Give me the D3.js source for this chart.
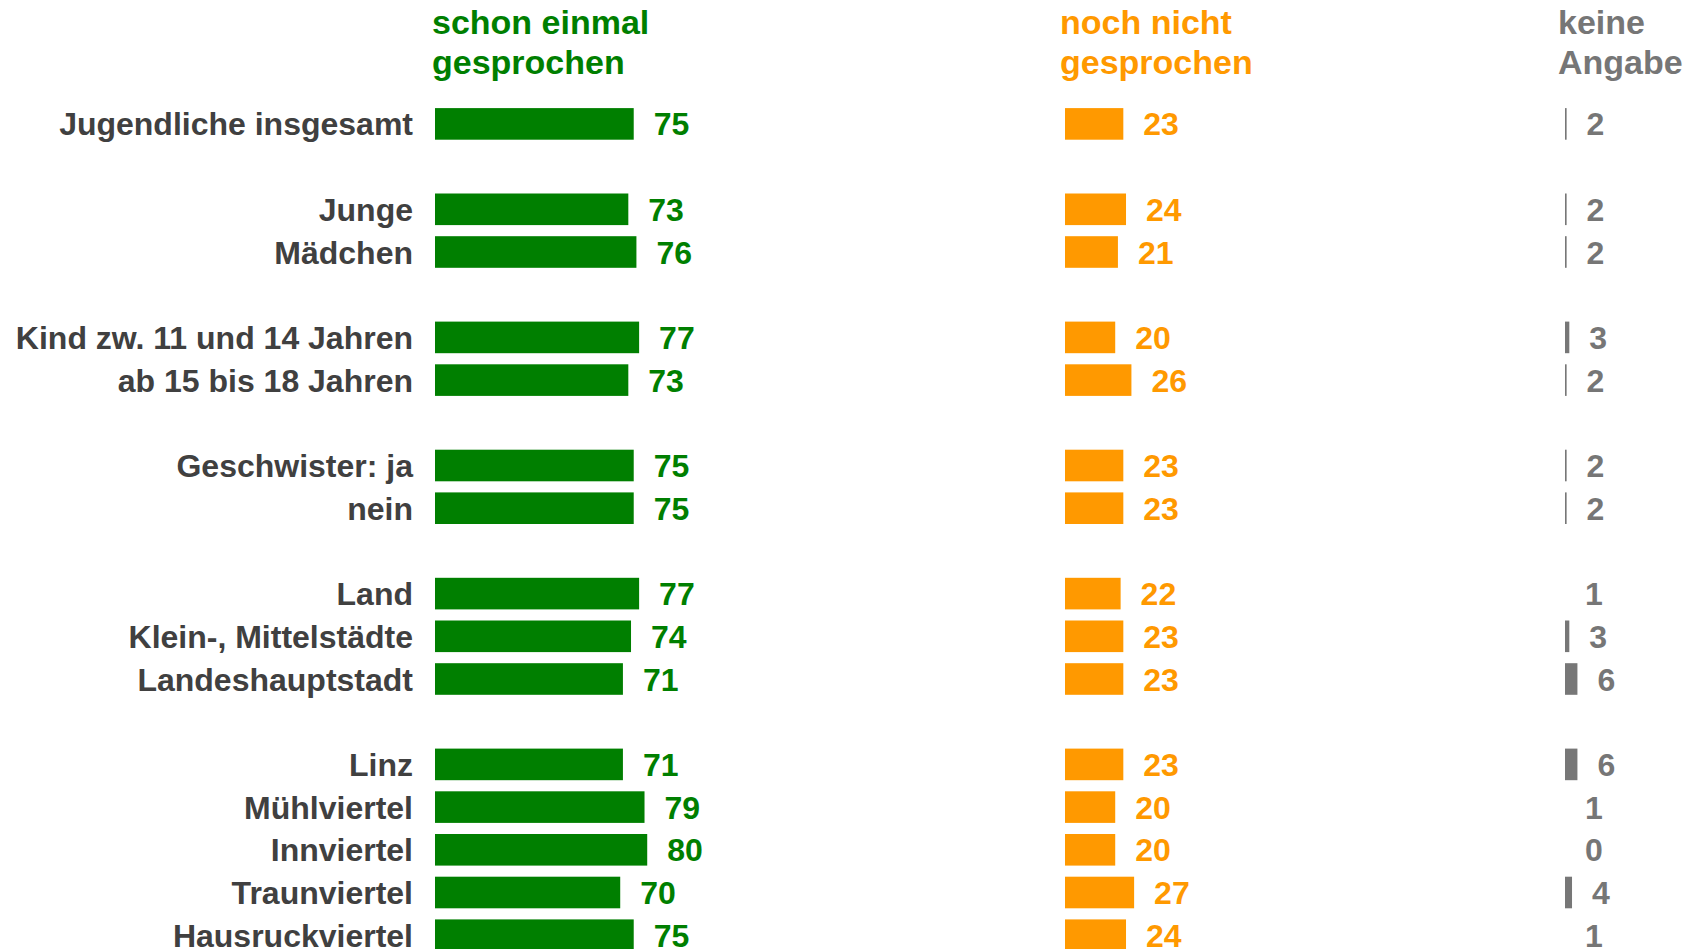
<!DOCTYPE html>
<html>
<head>
<meta charset="utf-8">
<script src="https://cdn.jsdelivr.net/npm/d3@7"></script>
<style>
  body { margin: 0; background: #fff; }
  svg text { font-family: "Liberation Sans", Arial, sans-serif; font-weight: bold; }
</style>
</head>
<body>
<div id="chart"></div>
<script>
var svgWidth = 1689;
var svgHeight = 949;

// data
var categories = ["Jugendliche insgesamt", "Junge", "Mädchen", "Kind zw. 11 und 14 Jahren",
  "ab 15 bis 18 Jahren", "Geschwister: ja", "nein", "Land", "Klein-, Mittelstädte",
  "Landeshauptstadt", "Linz", "Mühlviertel", "Innviertel", "Traunviertel", "Hausruckviertel"];
var groups = [0, 1, 1, 2, 2, 3, 3, 4, 4, 4, 5, 5, 5, 5, 5];
var schonEinmal = [75, 73, 76, 77, 73, 75, 75, 77, 74, 71, 71, 79, 80, 70, 75];
var nochNicht = [23, 24, 21, 20, 26, 23, 23, 22, 23, 23, 23, 20, 20, 27, 24];
var keineAngabe = [2, 2, 2, 3, 2, 2, 2, 1, 3, 6, 6, 1, 0, 4, 1];
var seriesNames = [["schon einmal", "gesprochen"], ["noch nicht", "gesprochen"], ["keine", "Angabe"]];

var colors = ["#007f00", "#ff9900", "#777777"];
var textColors = ["#007f00", "#ff9900", "#767676"];
var colX = [435, 1065, 1565];
var headX = [432, 1060, 1558];

var svg = d3.select("#chart")
  .append("svg")
  .attr("width", svgWidth)
  .attr("height", svgHeight);

// every group separated by one empty slot
var slots = categories.map((c, i) => i + groups[i]);
var nSlots = d3.max(slots) + 1;
var step = 42.7;
var top0 = 123.9 - step / 2;

var y = d3.scaleBand()
  .domain(d3.range(nSlots))
  .range([top0, top0 + nSlots * step])
  .paddingInner(0.26)
  .paddingOuter(0.13);

var x = d3.scaleLinear()
  .domain([1.4, 101.4])
  .range([0, 270])
  .clamp(true);

var rows = categories.map((c, i) => ({
  name: c,
  slot: slots[i],
  values: [schonEinmal[i], nochNicht[i], keineAngabe[i]]
}));

// headers
seriesNames.forEach(function(lines, k) {
  var t = svg.append("text")
    .attr("x", headX[k])
    .attr("y", 33.5)
    .attr("fill", textColors[k])
    .style("font-size", "34px");
  lines.forEach(function(l, j) {
    t.append("tspan")
      .attr("x", headX[k])
      .attr("dy", j === 0 ? 0 : 40.5)
      .text(l);
  });
});

// category labels
svg.append("g").selectAll("text")
  .data(rows)
  .enter()
  .append("text")
  .attr("x", 413)
  .attr("y", d => y(d.slot) + y.bandwidth() / 2)
  .attr("dy", "0.36em")
  .attr("text-anchor", "end")
  .attr("fill", "#404040")
  .style("font-size", "32px")
  .text(d => d.name);

// bars and values per column
[0, 1, 2].forEach(function(k) {
  var g = svg.append("g").attr("transform", `translate(${colX[k]}, 0)`);

  g.selectAll("rect")
    .data(rows)
    .enter()
    .append("rect")
    .attr("x", 0)
    .attr("y", d => y(d.slot))
    .attr("width", d => x(d.values[k]))
    .attr("height", y.bandwidth())
    .attr("fill", colors[k]);

  g.selectAll("text")
    .data(rows)
    .enter()
    .append("text")
    .attr("x", d => x(d.values[k]) + 20)
    .attr("y", d => y(d.slot) + y.bandwidth() / 2)
    .attr("dy", "0.36em")
    .attr("fill", textColors[k])
    .style("font-size", "32px")
    .text(d => d.values[k]);
});
</script>
</body>
</html>
